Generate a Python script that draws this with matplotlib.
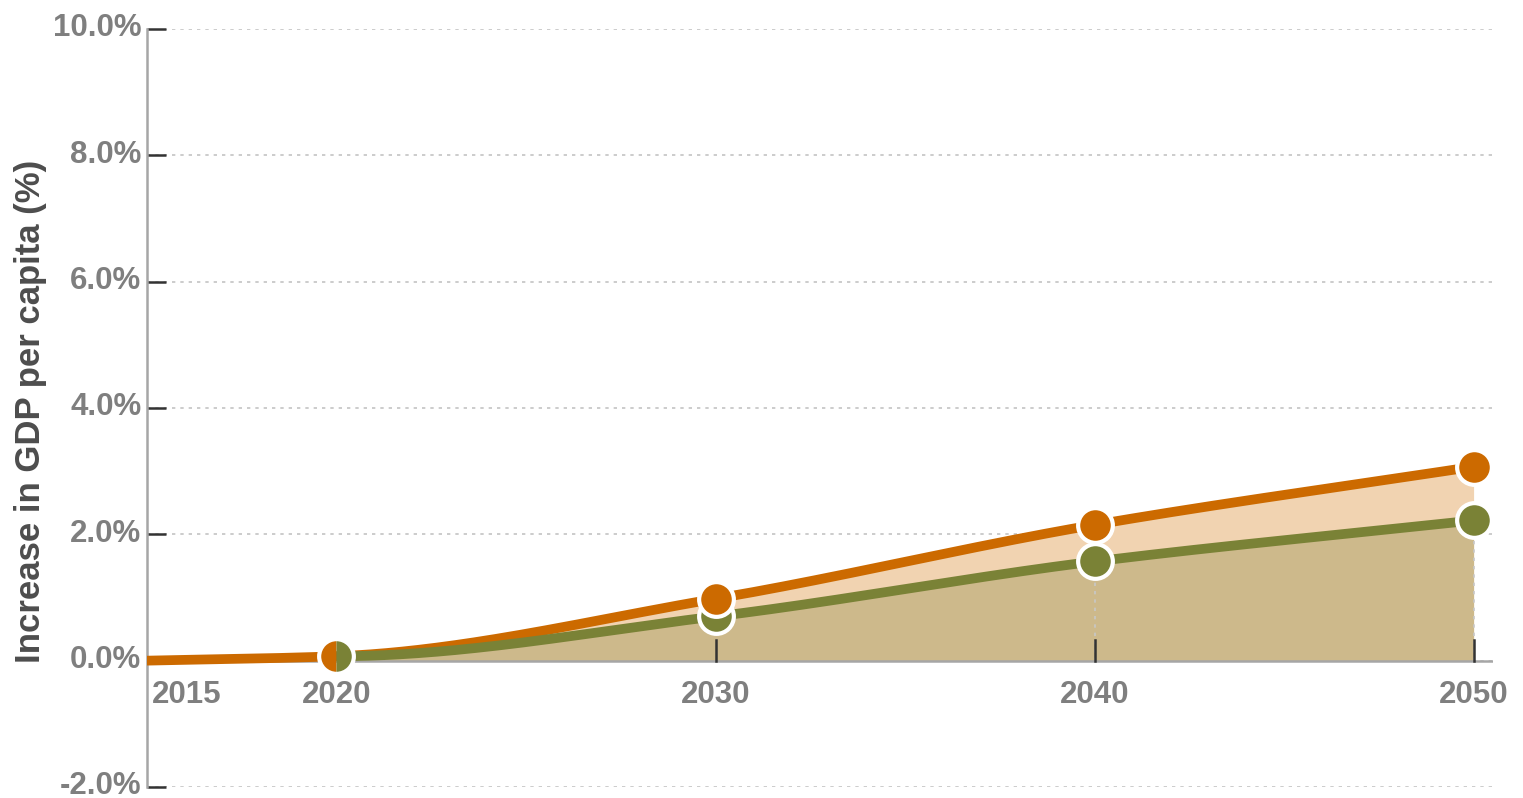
import numpy as np
import matplotlib
matplotlib.use("Agg")
import matplotlib.pyplot as plt
import matplotlib.transforms as mtransforms

years_orange = [2015, 2020, 2030, 2040, 2050]
values_orange = [0.0, 0.07, 0.98, 2.15, 3.07]
years_green = [2020, 2030, 2040, 2050]
values_green = [0.07, 0.70, 1.57, 2.22]
marker_years_orange = [2030, 2040, 2050]
marker_vals_orange = [0.98, 2.15, 3.07]
marker_years_green = [2030, 2040, 2050]
marker_vals_green = [0.70, 1.57, 2.22]
yticks = [-2, 0, 2, 4, 6, 8, 10]
ytick_labels = ["-2.0%", "0.0%", "2.0%", "4.0%", "6.0%", "8.0%", "10.0%"]
xtick_years = [2015, 2020, 2030, 2040, 2050]
xtick_labels = ["2015", "2020", "2030", "2040", "2050"]
ylabel = "Increase in GDP per capita (%)"

ORANGE = "#cc6a00"
GREEN = "#7a8236"
ORANGE_FILL = "#f1d3b1"
GREEN_FILL = "#cdb98b"
TICK_GRAY = "#7f7f7f"


def smooth(x, y, xs, start_slope=None):
    x = np.asarray(x, float); y = np.asarray(y, float)
    h = np.diff(x); d = np.diff(y) / h
    n = len(x)
    m = np.zeros(n)
    for k in range(1, n - 1):
        if d[k - 1] * d[k] > 0:
            w1 = 2 * h[k] + h[k - 1]; w2 = h[k] + 2 * h[k - 1]
            m[k] = (w1 + w2) / (w1 / d[k - 1] + w2 / d[k])
    m[0] = d[0] if start_slope is None else start_slope
    m[-1] = d[-1]
    out = np.empty_like(xs)
    for i, xv in enumerate(xs):
        k = min(np.searchsorted(x, xv, side="right") - 1, n - 2)
        k = max(k, 0)
        t = (xv - x[k]) / h[k]
        h00 = 2 * t**3 - 3 * t**2 + 1; h10 = t**3 - 2 * t**2 + t
        h01 = -2 * t**3 + 3 * t**2; h11 = t**3 - t**2
        out[i] = h00 * y[k] + h10 * h[k] * m[k] + h01 * y[k + 1] + h11 * h[k] * m[k + 1]
    return out


plt.rcParams["font.family"] = ["Liberation Sans", "DejaVu Sans"]
fig = plt.figure(figsize=(15.23, 7.98), dpi=100)
ax = fig.add_axes([0.0965, 0.0138, 0.8835, 0.9499])
ax.set_xlim(2015, 2050.5)
ax.set_ylim(-2, 10)

xo = np.linspace(years_orange[0], years_orange[-1], 500)
yo = smooth(years_orange, values_orange, xo)
xg = np.linspace(years_green[0], years_green[-1], 500)
yg = smooth(years_green, values_green, xg, start_slope=0.0)

# grid
for yv in yticks:
    ax.plot([2015, 2050.5], [yv, yv], color="#c4c4c4", lw=1.2, ls=(0, (2, 3)), zorder=1)

ax.fill_between(xo, 0, yo, where=xo >= 2020, color=ORANGE_FILL, lw=0, zorder=2)
ax.fill_between(xg, 0, yg, color=GREEN_FILL, lw=0, zorder=3)

# vertical dotted lines
for yr, v in zip(marker_years_orange[1:], marker_vals_green[1:]):
    ax.plot([yr, yr], [0, v], color="#c8c8c8", lw=1.2, ls=(0, (2, 3)), zorder=3.5)

ax.plot(xo, yo, color=ORANGE, lw=7, solid_capstyle="butt", zorder=4)
ax.plot(xg, yg, color=GREEN, lw=7, solid_capstyle="butt", zorder=5)

ax.plot(marker_years_green, marker_vals_green, "o", ms=25, color=GREEN,
        mec="white", mew=3, zorder=6, ls="none")
ax.plot(marker_years_orange, marker_vals_orange, "o", ms=25, color=ORANGE,
        mec="white", mew=3, zorder=7, ls="none")
# 2020 split marker
ax.plot([years_green[0]], [values_green[0]], "o", ms=25, fillstyle="left",
        color=ORANGE, markerfacecoloralt=GREEN, mew=0, zorder=7)
ax.plot([years_green[0]], [values_green[0]], "o", ms=25, mfc="none",
        mec="white", mew=3, zorder=7.5)

# spines
for s in ["top", "right", "bottom"]:
    ax.spines[s].set_visible(False)
ax.spines["left"].set_color("#a6a6a6")
ax.spines["left"].set_linewidth(1.8)
ax.axhline(0, color="#a6a6a6", lw=1.8, zorder=3.6)

ax.set_yticks(yticks)
ax.set_yticklabels(ytick_labels)
ax.tick_params(axis="y", direction="in", length=14, width=1.8, color="#333333",
               labelsize=22.5, labelcolor=TICK_GRAY, pad=4)
shift = mtransforms.ScaledTranslation(0, 4 / 100, fig.dpi_scale_trans)
for lab in ax.get_yticklabels():
    lab.set_fontweight("bold")
    lab.set_verticalalignment("center_baseline")
    lab.set_transform(lab.get_transform() + shift)

ax.set_xticks([])
for yr in [2030, 2040, 2050]:
    ax.plot([yr, yr], [0, 0.32], color="#333333", lw=1.8, zorder=3.7)
for yr, lab in zip(xtick_years, xtick_labels):
    ha = "left" if yr == 2015 else "center"
    xx = yr + 0.12 if yr == 2015 else yr
    ax.text(xx, -0.55, lab, ha=ha, va="center", fontsize=22.5, fontweight="bold",
            color=TICK_GRAY)

fig.text(0.0197, 0.485, ylabel, rotation=90, ha="center", va="center",
         fontsize=25, fontweight="bold", color="#4d4d4d")

fig.savefig("out.png", dpi=100)
